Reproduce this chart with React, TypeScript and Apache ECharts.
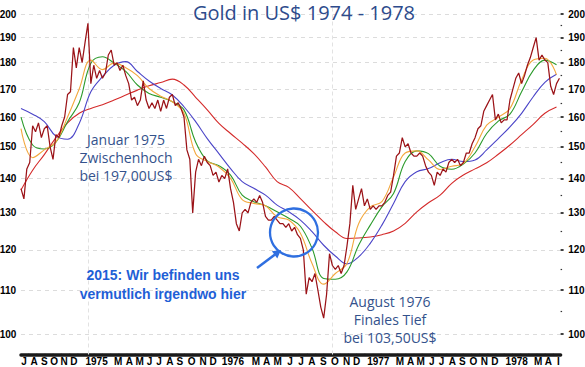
import React, { useEffect, useRef } from 'react';
import * as echarts from 'echarts';

// Price sampled every quarter month, starting a quarter month before July 1974 (month index 0 = July 1974)
const priceStartMonth = -0.25;
const priceStepMonth = 0.25;
const priceValues = [
  137, 134, 143, 145, 157, 155, 158, 153, 156, 157,
  150, 146, 154, 153, 157, 160, 168, 169, 186, 178,
  186, 180, 188, 196, 172, 179, 174, 177, 174, 176,
  183, 185, 179, 180, 177, 179, 175, 172, 166, 167,
  164, 166, 173, 166, 163, 165, 163, 166, 162, 166,
  163, 167, 168, 164, 165, 163, 160, 149, 146, 130,
  142, 146, 144, 147, 145, 144, 141, 142, 139, 141,
  140, 143, 137, 133, 127, 125, 130, 131, 130, 133,
  134, 133, 135, 133, 129, 128, 128, 129, 128, 127,
  127, 126, 127, 125, 126, 124, 123, 120, 109, 113,
  112, 114, 110, 106, 103.5, 109, 119, 116, 115, 116,
  114, 116, 121, 127, 138, 131, 134, 137, 132, 134,
  131, 132, 131, 132, 132, 133, 135, 136, 141, 147,
  148, 153, 150, 151, 148, 147, 147, 148, 147, 144,
  142, 141, 138, 142, 141, 143, 142, 145, 146, 145,
  146, 144, 145, 148, 148, 151, 153, 156, 157, 162,
  164, 166, 168, 159, 161, 158, 159, 159, 166, 170,
  174, 176, 172, 175, 179, 182, 186, 190, 181, 183,
  181, 180, 171, 168, 172, 174,
];

// Moving averages sampled once a month
const maStartMonth = -0.25;
const maStepMonth = 1;
const maShort = [
  156, 146.5, 149, 151.6, 160, 170, 181, 177.3, 179.8, 178,
  175, 170.2, 167.4, 165.4, 161.3, 147.8, 145.3, 143.6, 140.1, 133.8,
  132.7, 132, 128.9, 128, 124.4, 116.5, 111.4, 114, 116.5, 127,
  131.7, 133.2, 140.5, 148, 148.7, 145.8, 142.8, 143.8, 144.7, 150,
  157.2, 159.9, 163, 173.4, 181, 181.7, 175.3,
];
const maMid = [
  160, 150.6, 149.3, 151.5, 158.4, 165, 179.8, 182.3, 179.8, 176.6,
  171.5, 168.4, 167, 165.4, 162.5, 151.6, 145.5, 144, 141.1, 135.1,
  133.2, 132, 130.3, 128.5, 126.3, 120.4, 112.8, 112.6, 114.4, 121.2,
  126.6, 131.7, 135.6, 145.3, 148.7, 147.8, 143.8, 142.9, 144.5, 148,
  154.4, 158.6, 161, 169, 177, 181, 179.2,
];
const maLong = [
  163, 161, 158.4, 153.5, 152.5, 157.8, 169, 174.6, 179, 180.4,
  176.6, 173, 170.2, 167.8, 163.6, 158.4, 152.7, 147.8, 143.1, 139.1,
  137.1, 135.1, 132.2, 130.3, 128, 124.8, 121.2, 118.4, 116.4, 118.2,
  121.7, 126.6, 132.7, 139.1, 142.1, 143.1, 144.9, 146, 145.3, 145.8,
  149, 152.7, 156.6, 161.3, 167.2, 172.5, 175.5,
];
const ma200 = [
  136.6, 142.6, 147.5, 153, 158, 161.3, 163, 164.3, 166, 167.8,
  169.6, 171.2, 172.4, 173.7, 171.5, 167, 162.5, 157.8, 154.4, 151.2,
  147.8, 143.6, 139.1, 137.4, 134.1, 130.7, 127.5, 124.8, 123, 123.1,
  123.4, 124, 125, 127.1, 130.3, 132.9, 135.1, 138.6, 141.1, 143,
  144.9, 147.6, 150.6, 154, 157.5, 161.3, 163.5,
];

const yTickValues = [100, 110, 120, 130, 140, 150, 160, 170, 180, 190, 200];
const yMinorTickValues = [105, 115, 125, 135, 145, 155, 165, 175, 185, 195];
const yMinValue = 95.66;
const yMaxValue = 203.5;

// label positions on the (slightly irregular) month scale of the original
const monthTickPositions = [
  0, 0.885, 1.744, 2.603, 3.462, 4.296, 6.246, 8.1, 9.05, 9.94, 10.8, 11.6, 12.54, 13.4, 14.41, 15.4, 16.26,
  17.96, 19.93, 20.85, 21.8, 22.85, 23.8, 24.74, 25.71, 26.72, 27.72, 28.58,
  30.44, 32.3, 33.22, 34.08, 35.03, 35.88, 36.8, 37.66, 38.6, 39.55, 40.46,
  42.33, 44.18, 45.04, 45.9,
];
const monthTickLabels = [
  'J', 'A', 'S', 'O', 'N', 'D', '1975', 'M', 'A', 'M', 'J', 'J', 'A', 'S', 'O', 'N', 'D',
  '1976', 'M', 'A', 'M', 'J', 'J', 'A', 'S', 'O', 'N', 'D',
  '1977', 'M', 'A', 'M', 'J', 'J', 'A', 'S', 'O', 'N', 'D',
  '1978', 'M', 'A', 'I',
];
const markerMonths = [5.56, 26.49];
const xMinMonth = -0.25;
const xMaxMonth = 46.1;

const titleText = 'Gold in US$ 1974 - 1978';
const noteHigh = ['Januar 1975', 'Zwischenhoch', 'bei 197,00US$'];
const noteLow = ['August 1976', 'Finales Tief', 'bei 103,50US$'];
const noteNow = ['2015: Wir befinden uns', 'vermutlich irgendwo hier'];

const lg = (v: number) => Math.log10(v);

export default function App() {
  const ref = useRef<HTMLDivElement>(null);

  useEffect(() => {
    if (!ref.current) return;
    const chart = echarts.init(ref.current, null, { renderer: 'svg' });

    const priceData = priceValues.map((v, i) => [priceStartMonth + i * priceStepMonth, lg(v)]);
    const toMa = (arr: number[]) => arr.map((v, i) => [maStartMonth + i * maStepMonth, lg(v)]);

    const axisFont = "'Liberation Sans Narrow', 'Arial Narrow', 'Liberation Sans', Arial, sans-serif";
    const noteFont = "'Open Sans', sans-serif";
    const labelFmt = (v: number) => String(Math.round(Math.pow(10, v)));

    const maSeries = (name: string, arr: number[], color: string) => ({
      name,
      type: 'line',
      data: toMa(arr),
      smooth: 0.4,
      showSymbol: false,
      symbol: 'none',
      lineStyle: { color, width: 1.1 },
      z: 3,
      silent: true,
    });

    const noteText = (lines: string[], cx: number, y0: number, dy: number, font: string, fill: string) =>
      lines.map((t, i) => ({
        type: 'text',
        z: 100,
        style: {
          text: t,
          x: cx,
          y: y0 + i * dy,
          textAlign: 'center',
          textVerticalAlign: 'middle',
          font,
          fill,
        },
      }));

    const yLabelStyle = {
      color: '#000',
      fontWeight: 'bold',
      fontSize: 10,
      fontFamily: axisFont,
      align: 'center',
    };

    const option: any = {
      animation: false,
      backgroundColor: '#ffffff',
      grid: { left: 21, right: 24.4, top: 6, bottom: 12.5, containLabel: false, outerBoundsMode: 'none' },
      xAxis: {
        type: 'value',
        min: xMinMonth,
        max: xMaxMonth,
        axisLine: { show: true, onZero: false, lineStyle: { color: '#1a1a1a', width: 3.5, type: [7, 1.2] } },
        axisTick: { show: false },
        splitLine: { show: false },
        axisLabel: {
          customValues: monthTickPositions,
          formatter: (v: number) => {
            const i = monthTickPositions.findIndex((p) => Math.abs(p - v) < 1e-6);
            return i >= 0 ? monthTickLabels[i] : '';
          },
          color: '#000',
          fontWeight: 'bold',
          fontSize: 10,
          lineHeight: 10,
          fontFamily: axisFont,
          margin: 2,
          hideOverlap: false,
        },
      },
      yAxis: [
        {
          type: 'value',
          position: 'left',
          min: lg(yMinValue),
          max: lg(yMaxValue),
          axisLine: { show: false },
          axisTick: { show: false, customValues: yTickValues.map(lg) },
          splitLine: { show: true, lineStyle: { color: '#dcdcdc', type: [4, 4], width: 1 } },
          axisLabel: {
            customValues: yTickValues.map(lg),
            formatter: labelFmt,
            margin: 13,
            ...yLabelStyle,
          },
        },
        {
          type: 'value',
          position: 'right',
          min: lg(yMinValue),
          max: lg(yMaxValue),
          axisLine: { show: false },
          axisTick: { show: true, customValues: yTickValues.map(lg), length: 3, lineStyle: { color: '#000', width: 1.5 } },
          splitLine: { show: false },
          axisLabel: {
            customValues: yTickValues.map(lg),
            formatter: labelFmt,
            margin: 16,
            ...yLabelStyle,
          },
        },
        {
          type: 'value',
          position: 'right',
          min: lg(yMinValue),
          max: lg(yMaxValue),
          axisLine: { show: false },
          axisTick: { show: true, customValues: yMinorTickValues.map(lg), length: 1.5, lineStyle: { color: '#333', width: 1.2 } },
          splitLine: { show: false },
          axisLabel: { show: false },
        },
      ],
      series: [
        maSeries('MA 200', ma200, '#d42a2a'),
        maSeries('MA long', maLong, '#4b45c8'),
        maSeries('MA mid', maMid, '#2c9b2c'),
        maSeries('MA short', maShort, '#f3a83e'),
        {
          name: 'Gold',
          type: 'line',
          data: priceData,
          showSymbol: false,
          symbol: 'none',
          lineStyle: { color: '#9b1318', width: 1.25 },
          z: 4,
          silent: true,
          markLine: {
            silent: true,
            symbol: 'none',
            label: { show: false },
            lineStyle: { color: '#e2e2e2', type: [4, 3], width: 1 },
            data: markerMonths.map((m) => ({ xAxis: m })),
            z: 1,
          },
        },
      ],
      graphic: [
        {
          type: 'text',
          z: 100,
          style: {
            text: titleText,
            x: 304,
            y: 12,
            textAlign: 'center',
            textVerticalAlign: 'middle',
            font: `20px ${noteFont}`,
            fill: '#2d4b8c',
          },
        },
        ...noteText(noteHigh, 126, 139.5, 18, `14px ${noteFont}`, '#34528c'),
        ...noteText(noteLow, 390, 301, 18, `14px ${noteFont}`, '#34528c'),
        ...noteText(noteNow, 163, 275, 18.5, `bold 14px 'Liberation Sans', Arial, sans-serif`, '#1f5fd6'),
        {
          type: 'circle',
          z: 100,
          shape: { cx: 294, cy: 232.5, r: 24 },
          style: { fill: 'none', stroke: '#2f6fe0', lineWidth: 2.3 },
        },
        {
          type: 'line',
          z: 100,
          shape: { x1: 257, y1: 268, x2: 275, y2: 254.5 },
          style: { stroke: '#2f6fe0', lineWidth: 2.5 },
        },
        {
          type: 'polygon',
          z: 100,
          shape: { points: [[281, 250], [277.3, 258.4], [271.9, 251.2]] },
          style: { fill: '#2f6fe0' },
        },
      ],
    };

    chart.setOption(option);
    return () => chart.dispose();
  }, []);

  return (
    <div
      ref={ref}
      style={{ position: 'fixed', left: 0, top: 0, width: 585, height: 367, background: '#fff' }}
    />
  );
}
